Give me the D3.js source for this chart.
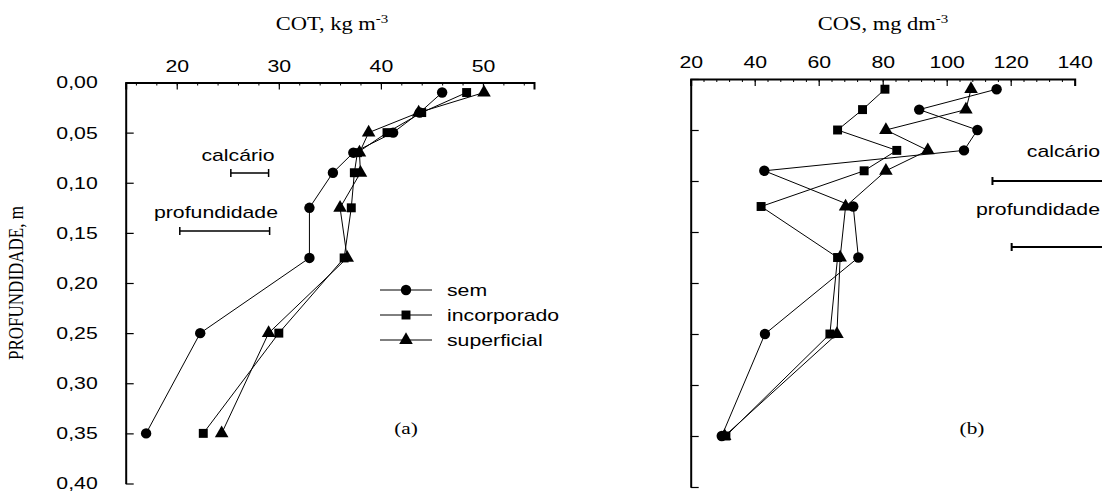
<!DOCTYPE html>
<html>
<head>
<meta charset="utf-8">
<script src="https://cdn.jsdelivr.net/npm/d3@7"></script>
<style>
  body { margin: 0; background: #fff; }
  svg { display: block; }
  .tick text { font-family: "Liberation Sans", Arial, sans-serif; font-size: 17px; fill: #000; }
  .serif { font-family: "Liberation Serif", "Times New Roman", serif; fill: #000; }
  .sans { font-family: "Liberation Sans", Arial, sans-serif; fill: #000; }
</style>
</head>
<body>
<svg id="chart" width="1102" height="492"></svg>
<script>
'use strict';

// profundidade (m), midpoint of each sampled layer
var depths = [0.01, 0.03, 0.05, 0.07, 0.09, 0.125, 0.175, 0.25, 0.35];

// (a) COT, kg m-3
var cotSem = [46.0, 43.8, 41.2, 37.3, 35.3, 33.0, 33.0, 22.3, 17.0];
var cotIncorporado = [48.4, 44.0, 40.6, 37.7, 37.4, 37.1, 36.4, 30.0, 22.6];
var cotSuperficial = [50.1, 43.7, 38.8, 37.9, 38.0, 36.0, 36.7, 29.0, 24.4];

// (b) COS, mg dm-3
var cosSem = [115.6, 91.4, 109.6, 105.4, 43.0, 70.8, 72.4, 43.2, 29.7];
var cosIncorporado = [80.7, 73.7, 65.9, 84.4, 74.2, 42.0, 65.9, 63.5, 31.0];
var cosSuperficial = [107.6, 106.0, 81.0, 94.1, 81.0, 68.4, 66.7, 65.7, 30.6];

var seriesNames = ["sem", "incorporado", "superficial"];
var depthTicks = [0, 0.05, 0.10, 0.15, 0.20, 0.25, 0.30, 0.35, 0.40];
var cotTicks = [20, 30, 40, 50];
var cosTicks = [20, 40, 60, 80, 100, 120, 140];

// DMS bars: [start, length]
var lsdLabels = ["calcário", "profundidade"];
var cotLsd = [[25.3, 3.7], [20.3, 8.8]];
var cosLsd = [[114.3, 40], [120.3, 40]];

var svg = d3.select("#chart");
var symbolTypes = [d3.symbolCircle, d3.symbolSquare, d3.symbolTriangle];
var symbolSizes = [85, 80, 80];
var fmtDepth = function(d) { return d3.format(".2f")(d).replace(".", ","); };

// the original figure is stretched sideways, so text glyphs are wider than normal
var SX = 1.25;
function stretch(sel) {
  sel.each(function() {
    var t = d3.select(this);
    var x = +t.attr("x") || 0, y = +t.attr("y") || 0;
    t.attr("x", null).attr("y", null)
      .attr("transform", "translate(" + x + "," + y + ") scale(" + SX + ",1)");
  });
}

function drawPanel(cfg) {
  var x = d3.scaleLinear().domain(cfg.xDomain).range(cfg.xRange);
  var y = d3.scaleLinear().domain([0, 0.4]).range(cfg.yRange);
  var g = svg.append("g");

  // minor ticks on top axis
  g.append("g")
    .attr("transform", "translate(0," + cfg.yRange[0] + ")")
    .call(d3.axisTop(x).tickValues(cfg.minorTicks).tickSize(-3).tickFormat(""))
    .call(function(s) { s.select(".domain").remove(); s.selectAll("line").attr("stroke-width", 1); });

  // major ticks + labels
  g.append("g")
    .attr("transform", "translate(0," + cfg.yRange[0] + ")")
    .call(d3.axisTop(x).tickValues(cfg.majorTicks).tickSize(-7).tickSizeOuter(-7).tickPadding(11))
    .call(function(s) {
      s.select(".domain").attr("stroke-width", 2);
      s.selectAll("line").attr("stroke-width", 1.2);
      stretch(s.selectAll("text"));
    });

  // depth axis
  g.append("g")
    .attr("transform", "translate(" + cfg.xRange[0] + ",0)")
    .call(d3.axisLeft(y).tickValues(depthTicks).tickSize(-8).tickSizeOuter(0).tickPadding(28)
      .tickFormat(cfg.showDepthLabels ? fmtDepth : ""))
    .call(function(s) {
      s.select(".domain").attr("stroke-width", 2);
      s.selectAll("line").attr("stroke-width", 1.2);
      stretch(s.selectAll("text"));
    });

  // series lines and markers
  cfg.series.forEach(function(vals, si) {
    var pts = vals.map(function(v, i) { return [v, depths[i]]; });
    g.append("path")
      .datum(pts)
      .attr("fill", "none")
      .attr("stroke", "#000")
      .attr("stroke-width", 1)
      .attr("d", d3.line().x(function(d) { return x(d[0]); }).y(function(d) { return y(d[1]); }));
    g.selectAll(".m" + si)
      .data(pts)
      .enter()
      .append("path")
      .attr("transform", function(d) { return "translate(" + x(d[0]) + "," + y(d[1]) + ")"; })
      .attr("d", d3.symbol().type(symbolTypes[si]).size(symbolSizes[si]))
      .attr("fill", "#000");
  });

  // DMS bars
  cfg.lsd.forEach(function(b, i) {
    var x0 = x(b[0]), x1 = x(b[0] + b[1]), yy = cfg.lsdY[i];
    g.append("path")
      .attr("d", "M" + x0 + "," + (yy - 4) + "V" + (yy + 4) + "M" + x0 + "," + yy + "H" + x1 +
        "M" + x1 + "," + (yy - 4) + "V" + (yy + 4))
      .attr("stroke", "#000")
      .attr("fill", "none")
      .attr("stroke-width", cfg.lsdWidth);
    g.append("text")
      .attr("class", "sans")
      .attr("x", cfg.lsdTextX[i])
      .attr("y", cfg.lsdTextY[i])
      .attr("text-anchor", cfg.lsdAnchor)
      .attr("font-size", 17)
      .text(lsdLabels[i])
      .call(stretch);
  });

  // title
  var t = g.append("text")
    .attr("class", "serif")
    .attr("x", cfg.titleX)
    .attr("y", 30)
    .attr("text-anchor", "middle")
    .attr("font-size", 18);
  t.append("tspan").text(cfg.title);
  t.append("tspan").attr("dy", -7).attr("font-size", 12).text("-3");
  t.call(stretch);

  g.append("text")
    .attr("class", "serif")
    .attr("x", cfg.tagX)
    .attr("y", 434)
    .attr("text-anchor", "middle")
    .attr("font-size", 17)
    .text(cfg.tag)
    .call(stretch);

  return { x: x, y: y, g: g };
}

drawPanel({
  xDomain: [15, 55], xRange: [125.7, 534], yRange: [82.5, 483.5],
  majorTicks: cotTicks, minorTicks: d3.range(16, 55, 2),
  showDepthLabels: true,
  series: [cotSem, cotIncorporado, cotSuperficial],
  lsd: cotLsd, lsdY: [173, 231], lsdWidth: 1.5,
  lsdTextX: [238, 216], lsdTextY: [161, 218], lsdAnchor: "middle",
  title: "COT, kg m", titleX: 332,
  tag: "(a)", tagX: 406
});

drawPanel({
  xDomain: [20, 140], xRange: [690.7, 1074.7], yRange: [79, 487],
  majorTicks: cosTicks, minorTicks: d3.range(24, 140, 4),
  showDepthLabels: false,
  series: [cosSem, cosIncorporado, cosSuperficial],
  lsd: cosLsd, lsdY: [181, 247], lsdWidth: 2,
  lsdTextX: [1100, 1100], lsdTextY: [157, 215], lsdAnchor: "end",
  title: "COS, mg dm", titleX: 883,
  tag: "(b)", tagX: 972
});

// depth axis title
svg.append("text")
  .attr("class", "serif")
  .attr("transform", "translate(23,283) scale(" + SX + ",1) rotate(-90)")
  .attr("text-anchor", "middle")
  .attr("font-size", 17)
  .text("PROFUNDIDADE, m");

// legend (panel a)
var legend = svg.append("g").attr("transform", "translate(380,290)");
seriesNames.forEach(function(name, i) {
  var row = legend.append("g").attr("transform", "translate(0," + (i * 25) + ")");
  row.append("line").attr("x1", 0).attr("x2", 52).attr("stroke", "#000").attr("stroke-width", 1);
  row.append("path")
    .attr("transform", "translate(26,0)")
    .attr("d", d3.symbol().type(symbolTypes[i]).size(symbolSizes[i]))
    .attr("fill", "#000");
  row.append("text")
    .attr("class", "sans")
    .attr("x", 67)
    .attr("y", 6)
    .attr("font-size", 17)
    .text(name)
    .call(stretch);
});
</script>
</body>
</html>
